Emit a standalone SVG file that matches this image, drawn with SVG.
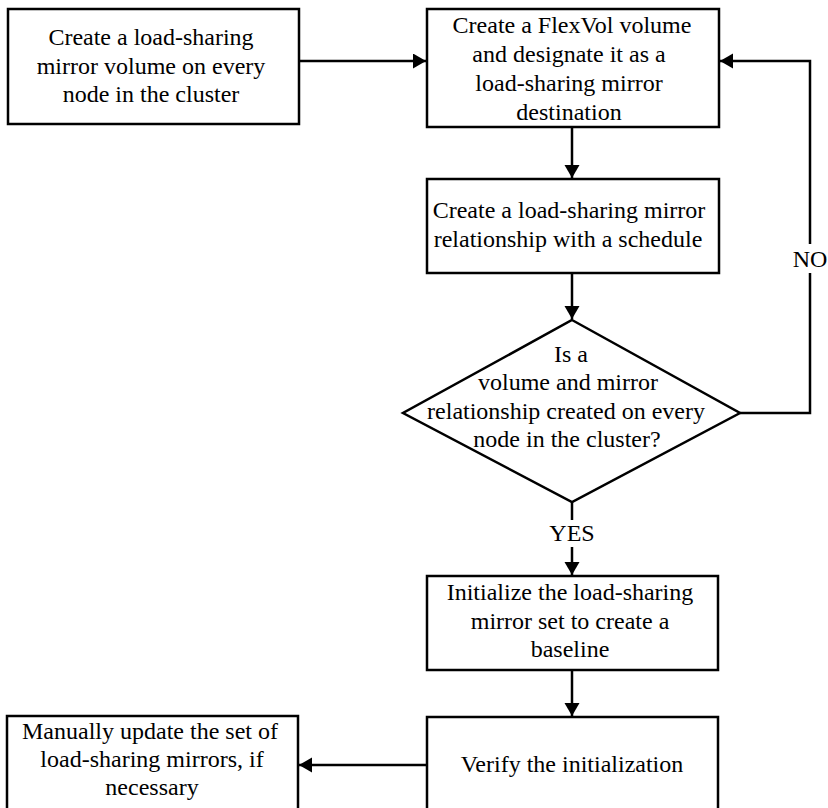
<svg xmlns="http://www.w3.org/2000/svg" width="828" height="808" viewBox="0 0 828 808">
<style>
.box{fill:#fff;stroke:#000;stroke-width:2.5}
.t{font-size:24px;fill:#000;text-anchor:middle}
.c{fill:none;stroke:#000;stroke-width:2.5}
</style>
<defs>
<marker id="ah" markerUnits="userSpaceOnUse" markerWidth="14" markerHeight="16" refX="13" refY="7.5" orient="auto">
<path d="M0,0 L13,7.5 L0,15 z" fill="#000"/>
</marker>
</defs>
<rect width="828" height="808" fill="#fff"/>
<g font-family="Liberation Serif, serif">
<g id="connectors">
<line class="c" x1="299" y1="61" x2="426" y2="61" marker-end="url(#ah)"/>
<line class="c" x1="572" y1="127" x2="572" y2="178" marker-end="url(#ah)"/>
<line class="c" x1="572" y1="273" x2="572" y2="319" marker-end="url(#ah)"/>
<polyline class="c" points="740,413 810,413 810,61 720,61" marker-end="url(#ah)"/>
<line class="c" x1="572" y1="502" x2="572" y2="575" marker-end="url(#ah)"/>
<line class="c" x1="572" y1="670" x2="572" y2="716" marker-end="url(#ah)"/>
<line class="c" x1="427" y1="765" x2="299" y2="765" marker-end="url(#ah)"/>
<rect x="792" y="244" width="36" height="29" fill="#fff"/>
<text class="t" x="810" y="267">NO</text>
<rect x="548" y="520" width="48" height="27" fill="#fff"/>
<text class="t" x="572" y="541">YES</text>
</g>
<g id="n1">
<rect class="box" x="8" y="9" width="291" height="115"/>
<text class="t" x="151" y="45">Create a load-sharing</text>
<text class="t" x="151" y="74">mirror volume on every</text>
<text class="t" x="151" y="102">node in the cluster</text>
</g>
<g id="n2">
<rect class="box" x="427" y="9" width="292" height="118"/>
<text class="t" x="572" y="33">Create a FlexVol volume</text>
<text class="t" x="569" y="62">and designate it as a</text>
<text class="t" x="569" y="91">load-sharing mirror</text>
<text class="t" x="569" y="120">destination</text>
</g>
<g id="n3">
<rect class="box" x="427" y="179" width="292" height="94"/>
<text class="t" x="569" y="218">Create a load-sharing mirror</text>
<text class="t" x="568" y="247">relationship with a schedule</text>
</g>
<g id="n4">
<polygon class="box" points="572,320 740,413 572,502 403,413"/>
<text class="t" x="571" y="362">Is a</text>
<text class="t" x="568" y="390">volume and mirror</text>
<text class="t" x="566" y="419">relationship created on every</text>
<text class="t" x="567" y="447">node in the cluster?</text>
</g>
<g id="n5">
<rect class="box" x="427" y="576" width="291" height="94"/>
<text class="t" x="570" y="600">Initialize the load-sharing</text>
<text class="t" x="570" y="629">mirror set to create a</text>
<text class="t" x="570" y="657">baseline</text>
</g>
<g id="n6">
<rect class="box" x="427" y="717" width="291" height="110"/>
<text class="t" x="572" y="772">Verify the initialization</text>
</g>
<g id="n7">
<rect class="box" x="7" y="716" width="291" height="110"/>
<text class="t" x="150" y="739">Manually update the set of</text>
<text class="t" x="152" y="767">load-sharing mirrors, if</text>
<text class="t" x="152" y="795">necessary</text>
</g>
</g>
</svg>
